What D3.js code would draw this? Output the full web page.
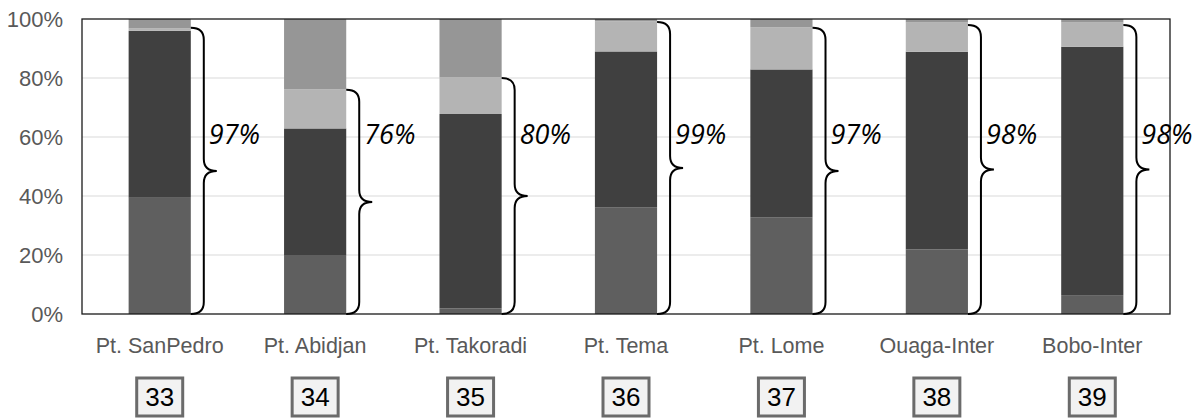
<!DOCTYPE html>
<html><head><meta charset="utf-8">
<script src="https://cdn.jsdelivr.net/npm/d3@7"></script>
<style>body{margin:0;background:#fff}svg{display:block}</style>
</head><body><svg id="c" width="1202" height="418"></svg>
<script>
const categories = ["Pt. SanPedro","Pt. Abidjan","Pt. Takoradi","Pt. Tema","Pt. Lome","Ouaga-Inter","Bobo-Inter"];
const codes = ["33","34","35","36","37","38","39"];
const series1 = [39.4, 20.0, 1.9, 36.2, 32.8, 21.9, 6.4];
const series2 = [56.6, 42.9, 65.9, 52.8, 50.1, 67.0, 84.2];
const series3 = [0.8, 13.3, 12.4, 10.2, 14.3, 9.9, 8.2];
const series4 = [3.2, 23.8, 19.8, 0.8, 2.8, 1.2, 1.2];
const bracketLabels = ["97%","76%","80%","99%","97%","98%","98%"];
const bracketValues = [97, 76, 80, 99, 97, 98, 98];
const yTicks = [0, 20, 40, 60, 80, 100];
const colors = ["#5f5f5f", "#404040", "#b4b4b4", "#969696"];

(function () {
const svg = d3.select("#c");
const pL = 82, pR = 1170, pT = 19, pB = 314;
const x = d3.scaleBand().domain(categories).range([pL, pR]).paddingInner(0.6).paddingOuter(0.3);
const y = d3.scaleLinear().domain([0, 100]).range([pB, pT]);

// gridlines
svg.append("g").selectAll("line").data(yTicks.filter(d => d > 0 && d < 100)).join("line")
  .attr("x1", pL).attr("x2", pR).attr("y1", d => y(d)).attr("y2", d => y(d))
  .attr("stroke", "#d9d9d9").attr("stroke-width", 1);

// y tick labels
const yAxis = d3.axisLeft(y).tickValues(yTicks).tickFormat(d => d + "%").tickSize(0).tickPadding(19);
const ga = svg.append("g").attr("transform", `translate(${pL},0)`).call(yAxis);
ga.select(".domain").remove();
ga.selectAll("text").attr("font-family", "Liberation Sans, Arial, sans-serif").attr("font-size", 22).attr("fill", "#595959");

// stacked bars
const rows = categories.map((c, i) => ({cat: c, s1: series1[i], s2: series2[i], s3: series3[i], s4: series4[i]}));
const stack = d3.stack().keys(["s1","s2","s3","s4"])(rows);
svg.append("g").selectAll("g").data(stack).join("g").attr("fill", (d, i) => colors[i])
  .selectAll("rect").data(d => d).join("rect")
  .attr("x", d => x(d.data.cat)).attr("width", x.bandwidth())
  .attr("y", d => y(d[1])).attr("height", d => y(d[0]) - y(d[1]));

// plot border
svg.append("rect").attr("x", pL).attr("y", pT).attr("width", pR - pL).attr("height", pB - pT)
  .attr("fill", "none").attr("stroke", "#1a1a1a").attr("stroke-width", 1.3);

// braces
const r = 12, dx = 13;
categories.forEach((c, i) => {
  const x0 = x(c) + x.bandwidth();
  const yt = y(bracketValues[i]), yb = y(0), ym = (yt + yb) / 2;
  const p = d3.path();
  p.moveTo(x0, yt);
  p.quadraticCurveTo(x0 + dx, yt, x0 + dx, yt + r);
  p.lineTo(x0 + dx, ym - r);
  p.quadraticCurveTo(x0 + dx, ym, x0 + 2 * dx, ym);
  p.quadraticCurveTo(x0 + dx, ym, x0 + dx, ym + r);
  p.lineTo(x0 + dx, yb - r);
  p.quadraticCurveTo(x0 + dx, yb, x0, yb);
  svg.append("path").attr("d", p.toString()).attr("fill", "none").attr("stroke", "#000").attr("stroke-width", 2);
  svg.append("text").attr("x", x0 + 18).attr("y", 144)
    .attr("font-family", "Open Sans, sans-serif").attr("font-style", "italic").attr("font-size", 27)
    .attr("fill", "#000").text(bracketLabels[i]);
});

// category labels
svg.append("g").selectAll("text").data(categories).join("text")
  .attr("x", d => x(d) + x.bandwidth() / 2).attr("y", 353).attr("text-anchor", "middle")
  .attr("font-family", "Liberation Sans, Arial, sans-serif").attr("font-size", 21.5).attr("fill", "#595959")
  .text(d => d);

// code boxes
const bw = 46, bh = 38;
const gb = svg.append("g").selectAll("g").data(categories).join("g")
  .attr("transform", d => `translate(${x(d) + x.bandwidth() / 2},0)`);
gb.append("rect").attr("x", -bw / 2).attr("y", 378).attr("width", bw).attr("height", bh)
  .attr("fill", "#f2f2f2").attr("stroke", "#6b6b6b").attr("stroke-width", 3);
gb.append("text").attr("x", 0).attr("y", 406).attr("text-anchor", "middle")
  .attr("font-family", "Liberation Sans, Arial, sans-serif").attr("font-size", 26).attr("fill", "#000")
  .text((d, i) => codes[i]);
})();
</script></body></html>
